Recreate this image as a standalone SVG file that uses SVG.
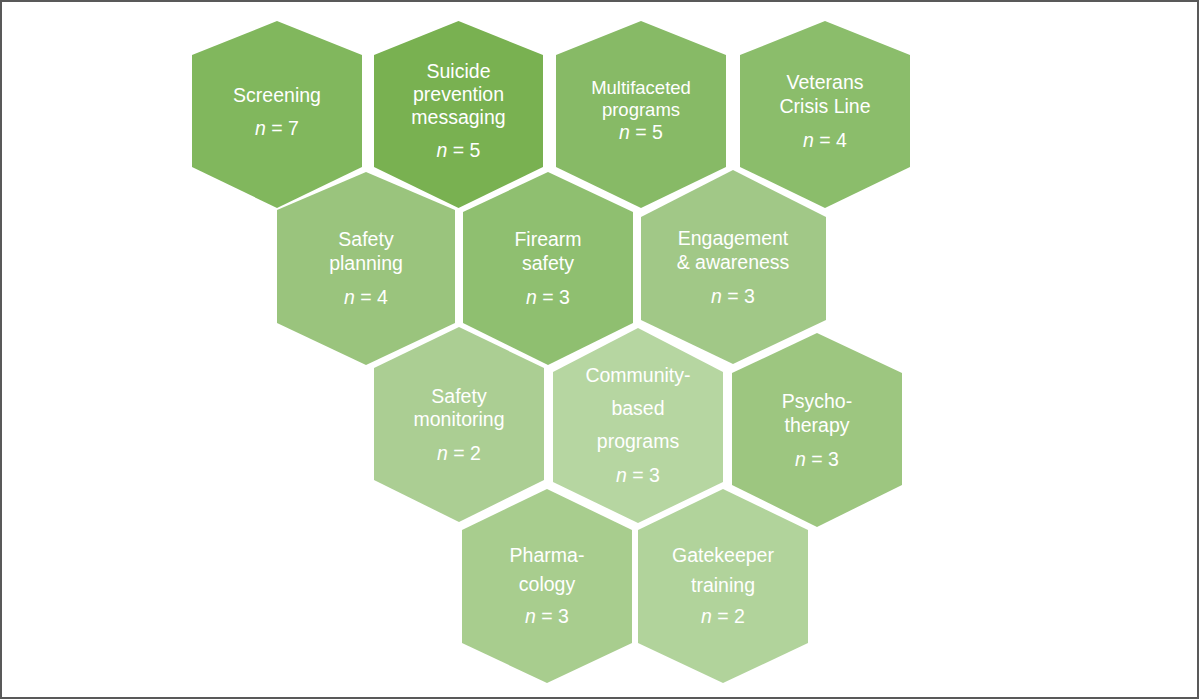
<svg xmlns="http://www.w3.org/2000/svg" width="1200" height="700" viewBox="0 0 1200 700">
<style>
text{font-family:"Liberation Sans",Arial,sans-serif;font-size:19.5px;fill:#ffffff;text-anchor:middle}
.i{font-style:italic}
</style>
<rect x="0" y="0" width="1200" height="700" fill="#ffffff"/>
<rect x="1" y="1" width="1197" height="697" fill="none" stroke="#595959" stroke-width="2"/>
<g id="connectors"/>
<g id="screening">
<polygon points="277,21 362,55 362,167 277,208 192,167 192,55" fill="#81b75d"/>
<text x="277" y="102">Screening</text>
<text x="277" y="135"><tspan class="i">n</tspan> = 7</text>
</g>
<g id="suicide-prevention-messaging">
<polygon points="458.5,21 543,55 543,167 458.5,208 374,167 374,55" fill="#79b151"/>
<text x="458.5" y="78">Suicide</text>
<text x="458.5" y="101">prevention</text>
<text x="458.5" y="124">messaging</text>
<text x="458.5" y="157"><tspan class="i">n</tspan> = 5</text>
</g>
<g id="multifaceted-programs">
<polygon points="641,21 726,55 726,167 641,208 556,167 556,55" fill="#87ba66"/>
<text x="641" y="94" style="font-size:18.5px">Multifaceted</text>
<text x="641" y="116" style="font-size:18.5px">programs</text>
<text x="641" y="139"><tspan class="i">n</tspan> = 5</text>
</g>
<g id="veterans-crisis-line">
<polygon points="825,21 910,55 910,167 825,208 740,167 740,55" fill="#8bbd6b"/>
<text x="825" y="89">Veterans</text>
<text x="825" y="113">Crisis Line</text>
<text x="825" y="147"><tspan class="i">n</tspan> = 4</text>
</g>
<g id="safety-planning">
<polygon points="366,172 455,210 455,323 366,365 277,323 277,210" fill="#9ac47d"/>
<text x="366" y="246">Safety</text>
<text x="366" y="270">planning</text>
<text x="366" y="304"><tspan class="i">n</tspan> = 4</text>
</g>
<g id="firearm-safety">
<polygon points="548,172 633,212 633,323 548,365 463,323 463,212" fill="#8fbf70"/>
<text x="548" y="246">Firearm</text>
<text x="548" y="270">safety</text>
<text x="548" y="304"><tspan class="i">n</tspan> = 3</text>
</g>
<g id="engagement-awareness">
<polygon points="733,170 826,217 826,320 733,364 641,320 641,217" fill="#a1c887"/>
<text x="733" y="245">Engagement</text>
<text x="733" y="269">&amp; awareness</text>
<text x="733" y="303"><tspan class="i">n</tspan> = 3</text>
</g>
<g id="safety-monitoring">
<polygon points="459,327 544,368 544,480 459,522 374,480 374,368" fill="#abce93"/>
<text x="459" y="403">Safety</text>
<text x="459" y="426">monitoring</text>
<text x="459" y="460"><tspan class="i">n</tspan> = 2</text>
</g>
<g id="community-based-programs">
<polygon points="638,328 723,372 723,482 638,523 553,482 553,372" fill="#b6d6a1"/>
<text x="638" y="382">Community-</text>
<text x="638" y="415">based</text>
<text x="638" y="448">programs</text>
<text x="638" y="482"><tspan class="i">n</tspan> = 3</text>
</g>
<g id="psychotherapy">
<polygon points="817,333 902,373 902,485 817,527 732,485 732,373" fill="#9dc680"/>
<text x="817" y="408">Psycho-</text>
<text x="817" y="432">therapy</text>
<text x="817" y="466"><tspan class="i">n</tspan> = 3</text>
</g>
<g id="pharmacology">
<polygon points="547,489 632,530 632,643 547,683 462,643 462,530" fill="#a8cd8e"/>
<text x="547" y="562">Pharma-</text>
<text x="547" y="591">cology</text>
<text x="547" y="623"><tspan class="i">n</tspan> = 3</text>
</g>
<g id="gatekeeper-training">
<polygon points="723,489 808,530 808,643 723,683 638,643 638,530" fill="#b1d39b"/>
<text x="723" y="562">Gatekeeper</text>
<text x="723" y="592">training</text>
<text x="723" y="623"><tspan class="i">n</tspan> = 2</text>
</g>
</svg>
